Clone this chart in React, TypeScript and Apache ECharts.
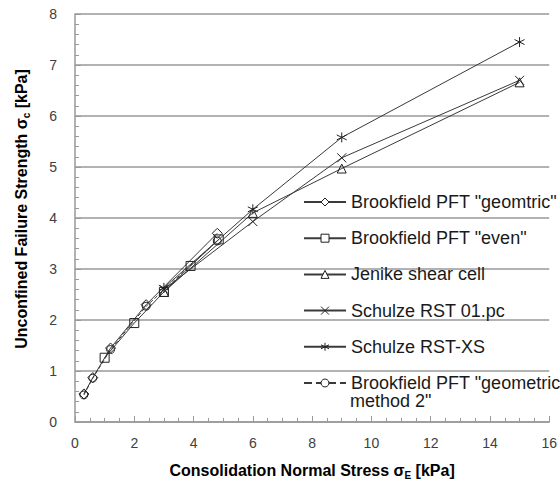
import React, { useEffect, useRef } from "react";
import * as echarts from "echarts";

const seriesNames = [
  'Brookfield PFT "geomtric"',
  'Brookfield PFT "even"',
  "Jenike shear cell",
  "Schulze RST 01.pc",
  "Schulze RST-XS",
  'Brookfield PFT "geometric method 2"',
];

const pftGeomtric: [number, number][] = [[0.3, 0.55], [0.6, 0.87], [1.2, 1.45], [2.4, 2.3], [4.8, 3.7]];
const pftEven: [number, number][] = [[1.0, 1.26], [2.0, 1.94], [3.0, 2.55], [3.9, 3.06], [4.85, 3.58]];
const jenike: [number, number][] = [[3.0, 2.55], [6.0, 4.1], [9.0, 4.97], [15.0, 6.66]];
const schulze01: [number, number][] = [[3.0, 2.6], [6.0, 3.93], [9.0, 5.18], [15.0, 6.7]];
const schulzeXS: [number, number][] = [[3.0, 2.63], [6.0, 4.17], [9.0, 5.58], [15.0, 7.45]];
const pftGeometric2: [number, number][] = [[0.3, 0.53], [0.6, 0.86], [1.2, 1.42], [2.4, 2.27], [4.8, 3.55]];

const xTicks = { min: 0, max: 16, interval: 2 };
const yTicks = { min: 0, max: 8, interval: 1 };

const FONT = "Liberation Sans";

export default function App() {
  const ref = useRef<HTMLDivElement>(null);
  useEffect(() => {
    if (!ref.current) return;
    const chart = echarts.init(ref.current, null, { renderer: "svg" });
    const mk = (
      name: string,
      data: [number, number][],
      symbol: string,
      size: number,
      dashed = false
    ) => ({
      name,
      type: "line",
      data,
      symbol,
      symbolSize: size,
      showAllSymbol: true,
      lineStyle: { color: "#3a3a3a", width: 1, type: dashed ? "dashed" : "solid" },
      itemStyle: { color: "rgba(255,255,255,0)", borderColor: "#222", borderWidth: 1 },
      emphasis: { disabled: true },
    });
    const axisCommon = {
      axisLine: { show: true, lineStyle: { color: "#999", width: 1.5 } },
      axisTick: { show: true, inside: true, length: 6, lineStyle: { color: "#999" } },
      minorTick: { show: true, length: 4, lineStyle: { color: "#999" } },
      axisLabel: { fontFamily: FONT, fontSize: 14, color: "#404040" },
    };
    chart.setOption({
      animation: false,
      backgroundColor: "#fff",
      grid: { left: 75, right: 8, top: 14, bottom: 64 },
      xAxis: {
        type: "value",
        ...xTicks,
        ...axisCommon,
        minorTick: { ...axisCommon.minorTick, splitNumber: 4 },
        axisLabel: { ...axisCommon.axisLabel, margin: 14 },
        splitLine: { show: false },
        name: "{a|Consolidation Normal Stress σ}{s|E}{a| [kPa]}",
        nameLocation: "middle",
        nameGap: 38,
        nameTextStyle: {
          rich: {
            a: { fontFamily: FONT, fontWeight: "bold", fontSize: 16, color: "#000", lineHeight: 20 },
            s: { fontFamily: FONT, fontWeight: "bold", fontSize: 10, color: "#000", lineHeight: 20, verticalAlign: "bottom", padding: [8, 0, 0, 0] },
          },
        },
      },
      yAxis: {
        type: "value",
        ...yTicks,
        ...axisCommon,
        minorTick: { ...axisCommon.minorTick, splitNumber: 5 },
        axisLabel: { ...axisCommon.axisLabel, margin: 18 },
        splitLine: { show: true, lineStyle: { color: "#999", width: 1.5 } },
        name: "{a|Unconfined Failure Strength σ}{s|c}{a| [kPa]}",
        nameLocation: "middle",
        nameGap: 44,
        nameTextStyle: {
          padding: [0, 0, 0, 18],
          rich: {
            a: { fontFamily: FONT, fontWeight: "bold", fontSize: 16, color: "#000", lineHeight: 20 },
            s: { fontFamily: FONT, fontWeight: "bold", fontSize: 10, color: "#000", lineHeight: 20, verticalAlign: "bottom", padding: [8, 0, 0, 0] },
          },
        },
      },
      legend: {
        orient: "vertical",
        left: 303,
        top: 193,
        padding: 0,
        itemWidth: 42,
        itemHeight: 10,
        itemGap: 18.2,
        itemStyle: { color: "#fff", borderColor: "#222", borderWidth: 1 },
        textStyle: { fontFamily: FONT, fontSize: 18, color: "#1a1a1a", lineHeight: 18 },
        formatter: (name: string) =>
          name === seriesNames[5] ? 'Brookfield PFT "geometric' : name,
        selectedMode: false,
        data: seriesNames,
      },
      graphic: [
        {
          type: "text",
          left: 350,
          top: 392,
          style: { text: 'method 2"', font: `18px "${FONT}"`, fill: "#1a1a1a" },
        },
      ],
      series: [
        mk(seriesNames[0], pftGeomtric, "diamond", 10),
        mk(seriesNames[1], pftEven, "rect", 9),
        mk(seriesNames[2], jenike, "triangle", 9),
        mk(seriesNames[3], schulze01, "path://M0,0L10,10M10,0L0,10", 9),
        mk(seriesNames[4], schulzeXS, "path://M5,0L5,10M0,2.5L10,7.5M10,2.5L0,7.5", 10),
        mk(seriesNames[5], pftGeometric2, "circle", 8, true),
      ],
    });
    return () => chart.dispose();
  }, []);
  return (
    <div
      ref={ref}
      style={{ position: "fixed", left: 0, top: 0, width: 560, height: 486 }}
    />
  );
}
